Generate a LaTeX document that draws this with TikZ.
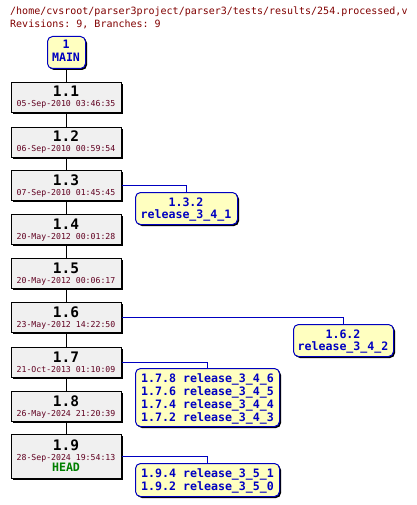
\documentclass[tikz,border=0pt]{standalone}
\usepackage{fontspec}
\setmonofont{DejaVu Sans Mono}
\usetikzlibrary{shadows}
\definecolor{titlered}{RGB}{128,0,0}
\definecolor{datered}{RGB}{96,0,32}
\definecolor{revfill}{RGB}{240,240,240}
\definecolor{brfill}{RGB}{255,255,192}
\definecolor{brblue}{RGB}{0,0,192}
\definecolor{headgreen}{RGB}{0,128,0}
\begin{document}
\begin{tikzpicture}[x=1pt,y=-1pt,font=\ttfamily,
  shad/.style={drop shadow={shadow xshift=1.5pt,shadow yshift=-1.5pt,fill=black,opacity=1}},
  revbox/.style={draw=black,fill=revfill,line width=1pt,minimum width=110pt,minimum height=30pt,inner sep=0pt,anchor=north west,shad},
  brbox/.style={draw=brblue,fill=brfill,line width=1pt,rounded corners=5pt,inner sep=0pt,anchor=north west,shad},
  revnum/.style={font=\ttfamily\bfseries\fontsize{14.5}{16}\selectfont,anchor=base,inner sep=0pt},
  datetxt/.style={font=\ttfamily\fontsize{8.2}{9}\selectfont,text=datered,anchor=base,inner sep=0pt},
  brtxt/.style={font=\ttfamily\bfseries\fontsize{11.6}{13}\selectfont,text=brblue,anchor=base,inner sep=0pt},
  brtxtl/.style={brtxt,anchor=base west},
  headtxt/.style={font=\ttfamily\bfseries\fontsize{11.6}{13}\selectfont,text=headgreen,anchor=base,inner sep=0pt},
  titletxt/.style={font=\ttfamily\fontsize{10}{12}\selectfont,text=titlered,anchor=base west,inner sep=0pt},
  trunk/.style={draw=black,line width=1pt},
  branchline/.style={draw=brblue,line width=1pt}]
\useasboundingbox (0,0) rectangle (416,505);
\node[titletxt] (title1) at (10,15) {/home/cvsroot/parser3project/parser3/tests/results/254.processed,v};
\node[titletxt] (title2) at (10,28) {Revisions: 9, Branches: 9};
% MAIN
\node[brbox,minimum width=38pt,minimum height=32pt] (main) at (47,36) {};
\node[brtxt] (mainnum) at (66,49) {1};
\node[brtxt] (mainname) at (66,62) {MAIN};
% revisions
\node[revbox] (r11) at (11,82) {};
\node[revbox] (r12) at (11,127) {};
\node[revbox] (r13) at (11,170) {};
\node[revbox] (r14) at (11,214) {};
\node[revbox] (r15) at (11,258) {};
\node[revbox] (r16) at (11,302) {};
\node[revbox] (r17) at (11,347) {};
\node[revbox] (r18) at (11,391) {};
\node[revbox,minimum height=44pt] (r19) at (11,434) {};
\node[revnum] (n11) at (66,97) {1.1};
\node[datetxt] (d11) at (66,107) {05-Sep-2010 03:46:35};
\node[revnum] (n12) at (66,142) {1.2};
\node[datetxt] (d12) at (66,152) {06-Sep-2010 00:59:54};
\node[revnum] (n13) at (66,185) {1.3};
\node[datetxt] (d13) at (66,195) {07-Sep-2010 01:45:45};
\node[revnum] (n14) at (66,229) {1.4};
\node[datetxt] (d14) at (66,239) {20-May-2012 00:01:28};
\node[revnum] (n15) at (66,273) {1.5};
\node[datetxt] (d15) at (66,283) {20-May-2012 00:06:17};
\node[revnum] (n16) at (66,317) {1.6};
\node[datetxt] (d16) at (66,327) {23-May-2012 14:22:50};
\node[revnum] (n17) at (66,362) {1.7};
\node[datetxt] (d17) at (66,372) {21-Oct-2013 01:10:09};
\node[revnum] (n18) at (66,406) {1.8};
\node[datetxt] (d18) at (66,416) {26-May-2024 21:20:39};
\node[revnum] (n19) at (66,450) {1.9};
\node[datetxt] (d19) at (66,460) {28-Sep-2024 19:54:13};
\node[headtxt] (h19) at (66,471) {HEAD};
% branches
\node[brbox,minimum width=102pt,minimum height=32pt] (b132) at (135,192) {};
\node[brtxt] (b132a) at (186,206) {1.3.2};
\node[brtxt] (b132b) at (186,218) {release\_3\_4\_1};
\node[brbox,minimum width=100pt,minimum height=32pt] (b162) at (293,324) {};
\node[brtxt] (b162a) at (343,338) {1.6.2};
\node[brtxt] (b162b) at (343,350) {release\_3\_4\_2};
\node[brbox,minimum width=144pt,minimum height=58pt] (b17) at (135,368) {};
\node[brtxtl] (b17a) at (141,382) {1.7.8 release\_3\_4\_6};
\node[brtxtl] (b17b) at (141,395) {1.7.6 release\_3\_4\_5};
\node[brtxtl] (b17c) at (141,408) {1.7.4 release\_3\_4\_4};
\node[brtxtl] (b17d) at (141,421) {1.7.2 release\_3\_4\_3};
\node[brbox,minimum width=144pt,minimum height=33pt] (b19) at (135,463) {};
\node[brtxtl] (b19a) at (141,477) {1.9.4 release\_3\_5\_1};
\node[brtxtl] (b19b) at (141,490) {1.9.2 release\_3\_5\_0};
% trunk connectors
\draw[trunk] (main.south) -- (r11.north);
\draw[trunk] (r11.south) -- (r12.north);
\draw[trunk] (r12.south) -- (r13.north);
\draw[trunk] (r13.south) -- (r14.north);
\draw[trunk] (r14.south) -- (r15.north);
\draw[trunk] (r15.south) -- (r16.north);
\draw[trunk] (r16.south) -- (r17.north);
\draw[trunk] (r17.south) -- (r18.north);
\draw[trunk] (r18.south) -- (r19.north);
% branch connectors
\draw[branchline] (r13.east) -| (b132.north);
\draw[branchline] (r16.east) -| (b162.north);
\draw[branchline] (r17.east) -| (b17.north);
\draw[branchline] (r19.east) -| (b19.north);
\end{tikzpicture}
\end{document}
